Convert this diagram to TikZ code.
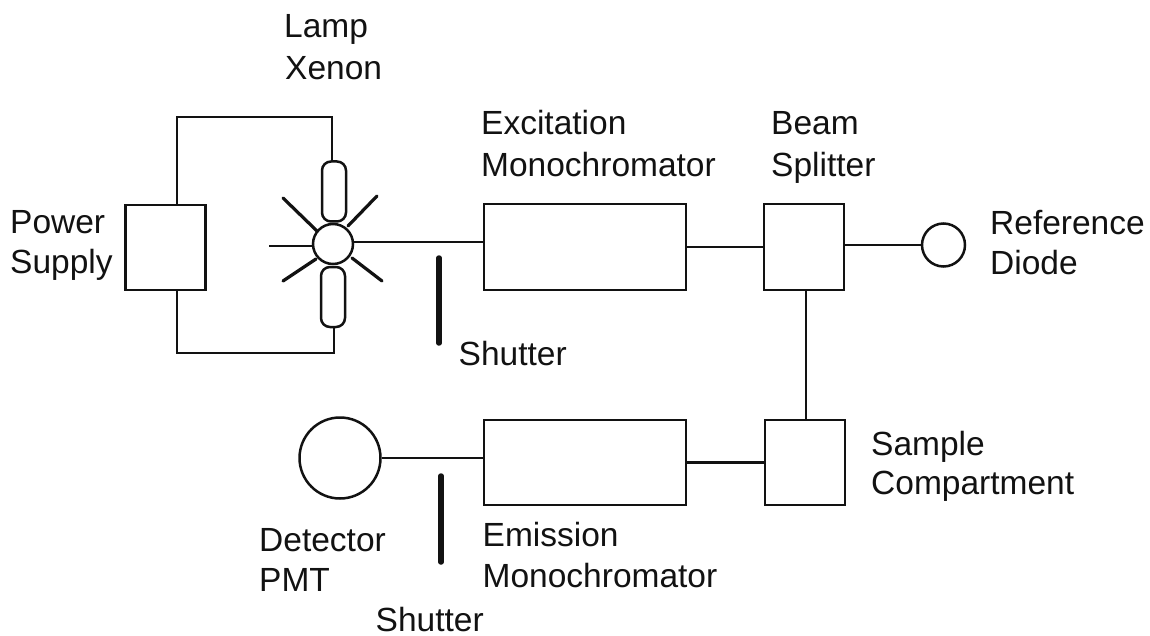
\documentclass[tikz,border=0pt]{standalone}
\usepackage{fontspec}
\setmainfont{Liberation Sans}
\usetikzlibrary{calc}
\definecolor{ink}{RGB}{18,18,18}
\tikzset{
  x=1pt,y=-1pt,
  wire/.style={draw=ink,line width=2.5pt},
  ray/.style={draw=ink,line width=3.2pt,line cap=round},
  shutterbar/.style={draw=ink,line width=5.5pt,line cap=round},
  boxnode/.style={draw=ink,line width=2.5pt,minimum width=#1,inner sep=0pt},
  lbl/.style={anchor=base west,inner sep=0pt,text=ink,font=\fontsize{33.5}{38}\selectfont},
  ringnode/.style={draw=ink,circle,line width=2.5pt,fill=white,inner sep=0pt,minimum size=#1},
  capsule/.style={draw=ink,rectangle,rounded corners=9pt,line width=2.5pt,inner sep=0pt,minimum width=24pt,minimum height=60pt}
}
\begin{document}
\begin{tikzpicture}
\useasboundingbox[fill=white] (0,0) rectangle (1150,636);
% boxes
\node[boxnode=80pt,minimum height=85pt] (psu) at (165.5,247.5) {};
\node[boxnode=202pt,minimum height=86pt] (exc) at (585,247) {};
\node[boxnode=80pt,minimum height=86pt] (bs) at (804,247) {};
\node[boxnode=80pt,minimum height=85pt] (sc) at (805,462.5) {};
\node[boxnode=202pt,minimum height=85pt] (em) at (585,462.5) {};
% lamp
\node[capsule] (capu) at (334,191.5) {};
\node[capsule] (capl) at (333,297) {};
\node[ringnode=40pt] (lamp) at (333,244) {};
\node[ringnode=43pt] (ref) at (943.5,245) {};
\node[ringnode=81pt] (pmt) at (340,458) {};
% rays
\coordinate (rl) at (269,246);
\coordinate (rul) at (283,198);
\coordinate (rur) at (377,196);
\coordinate (rdl) at (283,281);
\coordinate (rdr) at (382,281);
\draw[wire] (rl) -- (lamp.west |- rl);
\draw[ray] (rul) -- (317,231);
\draw[ray] (rur) -- (348,226);
\draw[ray] (rdl) -- (316,259);
\draw[ray] (rdr) -- (352,258);
% power wires
\coordinate (tl) at (177,117);
\coordinate (tr) at (332,117);
\coordinate (bl) at (177,353);
\coordinate (br) at (334,353);
\draw[wire] (tl |- psu.north) -- (tl) -- (tr) -- (tr |- capu.north);
\draw[wire] (bl |- psu.south) -- (bl) -- (br) -- (br |- capl.south);
% beam path
\coordinate (beam) at (400,242);
\draw[wire] (lamp.east |- beam) -- (exc.west |- beam);
\draw[wire] (exc.east) -- (bs.west);
\draw[wire] (bs.east |- ref.west) -- (ref.west);
\coordinate (vert) at (806,350);
\draw[wire] (vert |- bs.south) -- (vert |- sc.north);
\draw[wire] (sc.west) -- (em.east);
\draw[wire] (em.west |- pmt.east) -- (pmt.east);
% shutters
\coordinate (s1a) at (439,258);
\coordinate (s1b) at (439,343);
\coordinate (s2a) at (441,476);
\coordinate (s2b) at (441,562);
\draw[shutterbar] (s1a) -- (s1b);
\draw[shutterbar] (s2a) -- (s2b);
% labels
\node[lbl] (t1) at (284,38) {Lamp};
\node[lbl] (t2) at (285,80) {Xenon};
\node[lbl] (t3) at (481,135) {Excitation};
\node[lbl] (t4) at (481,177) {Monochromator};
\node[lbl] (t5) at (771,135) {Beam};
\node[lbl] (t6) at (771,177) {Splitter};
\node[lbl] (t7) at (10,234) {Power};
\node[lbl] (t8) at (10,273) {Supply};
\node[lbl] (t9) at (990,235) {Reference};
\node[lbl] (t10) at (990,274) {Diode};
\node[lbl] (t11) at (458.5,365) {Shutter};
\node[lbl] (t12) at (871,455) {Sample};
\node[lbl] (t13) at (871,494) {Compartment};
\node[lbl] (t14) at (259,551) {Detector};
\node[lbl] (t15) at (259,591) {PMT};
\node[lbl] (t16) at (482.5,546) {Emission};
\node[lbl] (t17) at (482.5,587) {Monochromator};
\node[lbl] (t18) at (375.5,631) {Shutter};
\end{tikzpicture}
\end{document}
